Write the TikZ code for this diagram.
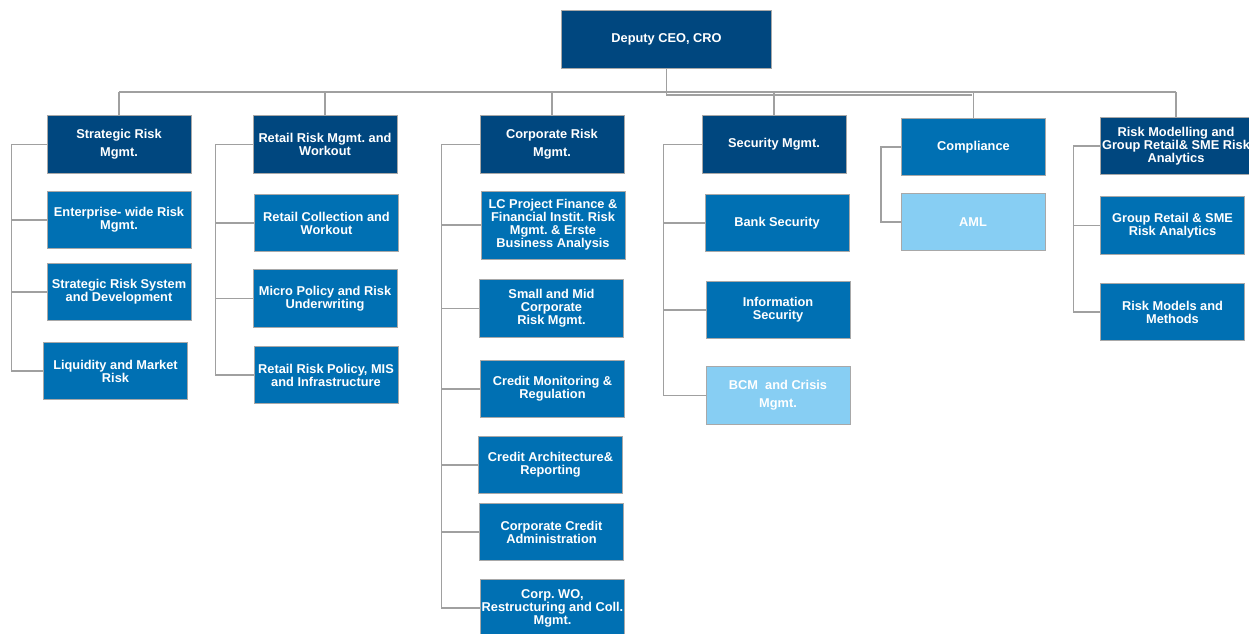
\documentclass[tikz,border=0pt]{standalone}
\usepackage{fontspec}
\setmainfont{Liberation Sans}
\usetikzlibrary{positioning}
\definecolor{headblue}{HTML}{00477F}
\definecolor{unitblue}{HTML}{0070B3}
\definecolor{auxblue}{HTML}{87CEF3}
\definecolor{boxgray}{HTML}{A8A8A8}
\definecolor{linkgray}{HTML}{A0A0A0}
\begin{document}
\begin{tikzpicture}[
    x=0.75pt, y=-0.75pt,
    box/.style={draw=boxgray, line width=0.6pt, text=white, align=center, inner sep=1pt,
        minimum width=108pt, minimum height=43pt,
        font=\frenchspacing\bfseries\fontsize{9.6}{9.8}\selectfont},
    head/.style={box, fill=headblue},
    unit/.style={box, fill=unitblue},
    aux/.style={box, fill=auxblue},
    link/.style={draw=linkgray, line width=1.1pt},
]
\useasboundingbox (0,0) rectangle (1249,633);

% Top
\node[head, minimum width=157pt] (ceo) at (666.5,39.5) {Deputy CEO, CRO};

% Division heads
\node[head] (srm) at (119,144.5) {Strategic Risk\\[4pt]Mgmt.};
\node[head] (rrm) at (325,144.5) {Retail Risk Mgmt. and\\Workout};
\node[head] (crm) at (552,144.5) {Corporate Risk\\[4pt]Mgmt.};
\node[head] (sec) at (774,144.5) {Security Mgmt.};
\node[unit] (cmp) at (973.5,147) {Compliance};
\node[head, minimum width=112.5pt] (rmg) at (1176,146) {Risk Modelling and\\Group Retail\& SME Risk\\Analytics};

% Strategic Risk Mgmt.
\node[unit] (ent) at (119,220) {Enterprise- wide Risk\\Mgmt.};
\node[unit] (srs) at (119,292) {Strategic Risk System\\and Development};
\node[unit] (liq) at (115.5,371) {Liquidity and Market\\Risk};

% Retail Risk Mgmt.
\node[unit] (rcw) at (326.5,223) {Retail Collection and\\Workout};
\node[unit] (mpr) at (325,298.5) {Micro Policy and Risk\\Underwriting};
\node[unit] (rrp) at (326,375) {Retail Risk Policy, MIS\\and Infrastructure};

% Corporate Risk Mgmt.
\node[unit, minimum height=51pt] (lcp) at (553,225) {LC Project Finance \&\\Financial Instit. Risk\\Mgmt. \& Erste\\Business Analysis};
\node[unit] (smc) at (551.5,308.5) {Small and Mid\\Corporate\\Risk Mgmt.};
\node[unit] (cmr) at (552.5,389) {Credit Monitoring \&\\Regulation};
\node[unit] (car) at (550.5,465) {Credit Architecture\&\\Reporting};
\node[unit] (cca) at (551.5,532) {Corporate Credit\\Administration};
\node[unit] (cwo) at (552.5,608) {Corp. WO,\\Restructuring and Coll.\\Mgmt.};

% Security Mgmt.
\node[unit] (bks) at (777,223) {Bank Security};
\node[unit] (ins) at (778,310) {Information\\Security};
\node[aux] (bcm) at (778,395.5) {BCM\ \ and Crisis\\[4pt]Mgmt.};

% Compliance
\node[aux] (aml) at (973,222) {AML};

% Risk Modelling
\node[unit] (grs) at (1172.5,225.5) {Group Retail \& SME\\Risk Analytics};
\node[unit] (rmm) at (1172.5,312) {Risk Models and\\Methods};

% Bus from the top
\coordinate (bus) at (667,92);
\coordinate (bus2) at (972,95);
\draw[link] (ceo.south) |- (bus2);
\draw[link] (srm.north |- bus) -- (rmg.north |- bus);
\foreach \h in {srm,rrm,crm,sec,cmp,rmg} {
    \draw[link] (\h.north |- bus) -- (\h.north);
}

% Side spines
\draw[link] (srm.west) -- ++(-35,0) coordinate (s1) |- (liq.west);
\foreach \c in {ent,srs} \draw[link] (s1 |- \c.west) -- (\c.west);

\draw[link] (rrm.west) -- ++(-37,0) coordinate (s2) |- (rrp.west);
\foreach \c in {rcw,mpr} \draw[link] (s2 |- \c.west) -- (\c.west);

\draw[link] (crm.west) -- ++(-38,0) coordinate (s3) |- (cwo.west);
\foreach \c in {lcp,smc,cmr,car,cca} \draw[link] (s3 |- \c.west) -- (\c.west);

\draw[link] (sec.west) -- ++(-38,0) coordinate (s4) |- (bcm.west);
\foreach \c in {bks,ins} \draw[link] (s4 |- \c.west) -- (\c.west);

\draw[link] (cmp.west) -- ++(-20,0) |- (aml.west);

\draw[link] (rmg.west) -- ++(-27,0) coordinate (s6) |- (rmm.west);
\draw[link] (s6 |- grs.west) -- (grs.west);
\end{tikzpicture}
\end{document}
